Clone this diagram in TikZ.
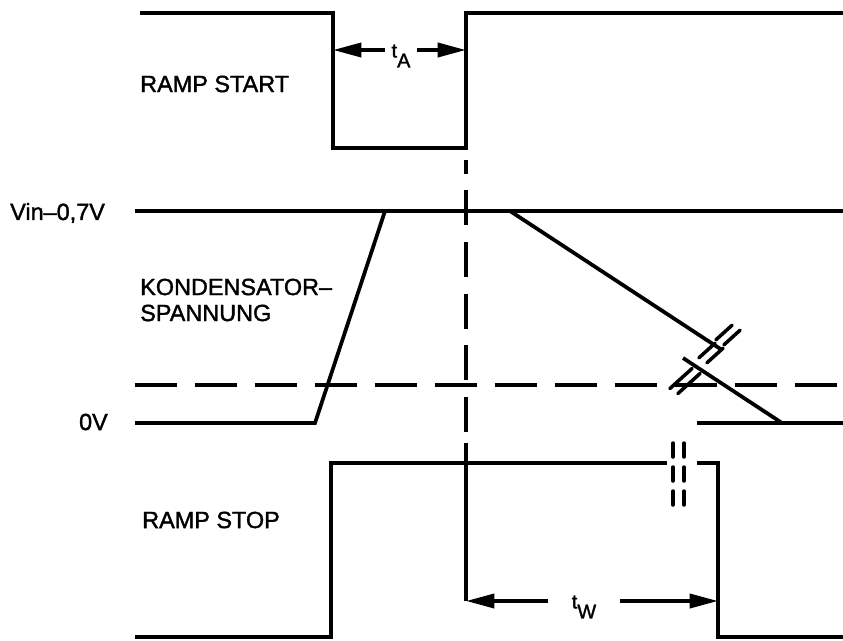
\documentclass[tikz,border=0pt]{standalone}
\usepackage{fontspec}
\setmainfont{Liberation Sans}[BoldFont={Liberation Sans}, BoldFeatures={FakeBold=1.5}]
\usetikzlibrary{arrows.meta}
\tikzset{
  sig/.style={line width=3.2pt},
  dsh/.style={sig, dash pattern=on 1.25cm off 0.55cm},
  brk/.style={line width=3pt, line cap=round},
  lbl/.style={anchor=west, inner sep=0pt},
  tlbl/.style={font=\fontsize{17}{19}\selectfont\bfseries, inner ysep=0pt}
}
\begin{document}
\begin{tikzpicture}[x=0.03cm, y=-0.03cm, >={Triangle[length=0.85cm,width=0.42cm]},
    font=\fontsize{20}{24}\selectfont\bfseries]
	\useasboundingbox (0,0) rectangle (843,640);
	% ramp start
	\draw[sig] (140,13) -- (333,13) -- (333,148) -- (466,148) -- (466,13) -- (843,13);
	\node[lbl] (rstart) at (140,84) {RAMP START};
	\node[tlbl, inner xsep=0.2cm] (tA) at (401,56) {t\raisebox{-0.3cm}{A}};
	\coordinate (aL) at (333,50);
	\coordinate (aR) at (466,50);
	\draw[sig,->] (tA.west |- aL) -- (aL);
	\draw[sig,->] (tA.east |- aR) -- (aR);
	% kondensatorspannung
	\draw[sig] (135,211) -- (843,211);
	\draw[sig] (135,423) -- (315,423) -- (385,211);
	\draw[sig] (510,211) -- (722,350);
	\draw[sig] (683,358) -- (782,423);
	\draw[sig] (697,423) -- (843,423);
	\draw[dsh] (135,385) -- (843,385);
	\node[lbl] (vin) at (10,213) {Vin–0,7V};
	\node[lbl, anchor=east] (nullv) at (108,422) {0V};
	\node[lbl] (kond) at (140,287) {KONDENSATOR–};
	\node[lbl] (spann) at (140,313) {SPANNUNG};
	\foreach \cx/\cy/\h in {728/335/11, 711/353/11, 685/381/15}
		\foreach \o in {-1,1}
			\draw[brk] (\cx+\o*4-\h*0.74, \cy+\o*2.5+\h*0.67) -- (\cx+\o*4+\h*0.74, \cy+\o*2.5-\h*0.67);
	% ramp stop
	\draw[sig] (135,637) -- (331,637) -- (331,463) -- (667,463);
	\draw[sig] (697,463) -- (718,463) -- (718,637) -- (843,637);
	\foreach \bx in {673,684}
		\draw[brk, dash pattern=on 0.42cm off 0.3cm] (\bx,443) -- (\bx,509);
	\node[lbl] (rstop) at (142,520) {RAMP STOP};
	% t_W
	\draw[sig] (466,601) -- (466,443);
	\draw[sig, dash pattern=on 1.05cm off 0.5cm] (466,432) -- (466,160);
	\node[tlbl, inner xsep=0.7cm] (tW) at (584,607) {t\raisebox{-0.3cm}{W}};
	\coordinate (wL) at (466,601);
	\coordinate (wR) at (718,601);
	\draw[sig,->] (tW.west |- wL) -- (wL);
	\draw[sig,->] (tW.east |- wR) -- (wR);
\end{tikzpicture}
\end{document}
